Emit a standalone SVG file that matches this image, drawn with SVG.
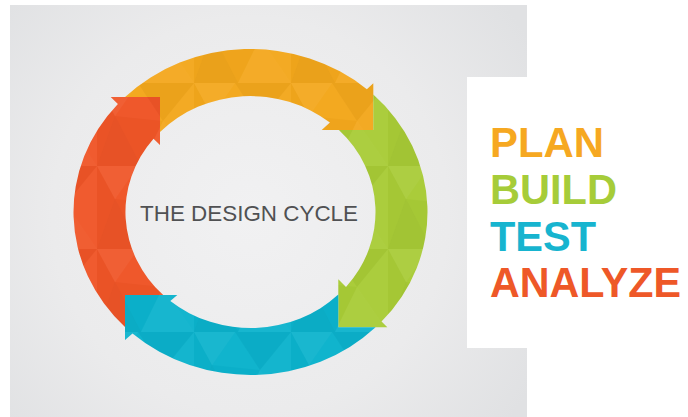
<svg xmlns="http://www.w3.org/2000/svg" width="688" height="417" viewBox="0 0 688 417">
  <style>
    .step { font-family: "Liberation Sans", Arial, sans-serif; font-weight: bold; font-size: 43px; }
    .center { font-family: "Liberation Sans", Arial, sans-serif; font-size: 22px; fill: #505153; }
    .facet { fill: url(#facets); }
  </style>
  <defs>
    <radialGradient id="bg" cx="250" cy="215" r="330" gradientUnits="userSpaceOnUse">
      <stop offset="0" stop-color="#f1f1f2"/>
      <stop offset="0.6" stop-color="#ebebec"/>
      <stop offset="1" stop-color="#e0e1e3"/>
    </radialGradient>
    <pattern id="facets" width="97" height="83" patternUnits="userSpaceOnUse">
      <polygon points="0,0 41,0 18,33" fill="#fff" opacity="0.06"/>
      <polygon points="41,0 97,0 66,38" fill="#000" opacity="0.03"/>
      <polygon points="18,33 66,38 41,0" fill="#fff" opacity="0.02"/>
      <polygon points="0,83 18,33 44,83" fill="#000" opacity="0.035"/>
      <polygon points="66,38 97,83 44,83" fill="#fff" opacity="0.05"/>
      <polygon points="18,33 66,38 44,83" fill="#000" opacity="0.015"/>
      <polygon points="0,0 18,33 0,83" fill="#000" opacity="0.02"/>
      <polygon points="97,0 66,38 97,83" fill="#fff" opacity="0.035"/>
    </pattern>
  </defs>

  <rect x="0" y="0" width="688" height="417" fill="#ffffff"/>
  <rect x="10" y="5" width="517" height="412" fill="url(#bg)"/>
  <rect x="467" y="77" width="221" height="271" fill="#ffffff"/>

  <g id="connectors">
    <g id="arrow-plan">
      <path fill="#f3a71c" d="M125.1,97 A177,163 0 0 1 366.85,89.14 L373.3,83.3 L373.3,130 L321.7,130 L329.9,122.6 A125,116 0 0 0 160,132 L160,97 Z"/>
      <path class="facet" d="M125.1,97 A177,163 0 0 1 366.85,89.14 L373.3,83.3 L373.3,130 L321.7,130 L329.9,122.6 A125,116 0 0 0 160,132 L160,97 Z"/>
    </g>
    <g id="arrow-build">
      <path fill="#a8cb36" d="M373.3,94.6 A177,163 0 0 1 381.5,321.6 L387.3,327.3 L338.3,327.3 L338.3,279.3 L346,286.9 A125,116 0 0 0 338.9,130 L373.3,130 Z"/>
      <path class="facet" d="M373.3,94.6 A177,163 0 0 1 381.5,321.6 L387.3,327.3 L338.3,327.3 L338.3,279.3 L346,286.9 A125,116 0 0 0 338.9,130 L373.3,130 Z"/>
    </g>
    <g id="arrow-test">
      <path fill="#0bb2cc" d="M375.6,327.3 A177,163 0 0 1 132.5,333.5 L125,340 L125,295 L177.3,295 L170.3,301 A125,116 0 0 0 338.3,294.6 L338.3,327.3 Z"/>
      <path class="facet" d="M375.6,327.3 A177,163 0 0 1 132.5,333.5 L125,340 L125,295 L177.3,295 L170.3,301 A125,116 0 0 0 338.3,294.6 L338.3,327.3 Z"/>
    </g>
    <g id="arrow-analyze">
      <path fill="#ef5527" d="M125,326.9 A177,163 0 0 1 117.9,104 L110.7,97 L160,97 L160,145 L153.5,138.7 A125,116 0 0 0 163.2,295 L125,295 Z"/>
      <path class="facet" d="M125,326.9 A177,163 0 0 1 117.9,104 L110.7,97 L160,97 L160,145 L153.5,138.7 A125,116 0 0 0 163.2,295 L125,295 Z"/>
    </g>
  </g>

  <g id="center-label">
    <text class="center" x="140" y="220.5" textLength="218" lengthAdjust="spacingAndGlyphs">THE DESIGN CYCLE</text>
  </g>

  <g id="step-plan">
    <text class="step" x="490" y="157" fill="#f6a821" textLength="114" lengthAdjust="spacingAndGlyphs">PLAN</text>
  </g>
  <g id="step-build">
    <text class="step" x="490" y="204" fill="#a6cc39" textLength="127" lengthAdjust="spacingAndGlyphs">BUILD</text>
  </g>
  <g id="step-test">
    <text class="step" x="490" y="251" fill="#17b4cf" textLength="106" lengthAdjust="spacingAndGlyphs">TEST</text>
  </g>
  <g id="step-analyze">
    <text class="step" x="490" y="297" fill="#ee5828" textLength="191" lengthAdjust="spacingAndGlyphs">ANALYZE</text>
  </g>
</svg>
